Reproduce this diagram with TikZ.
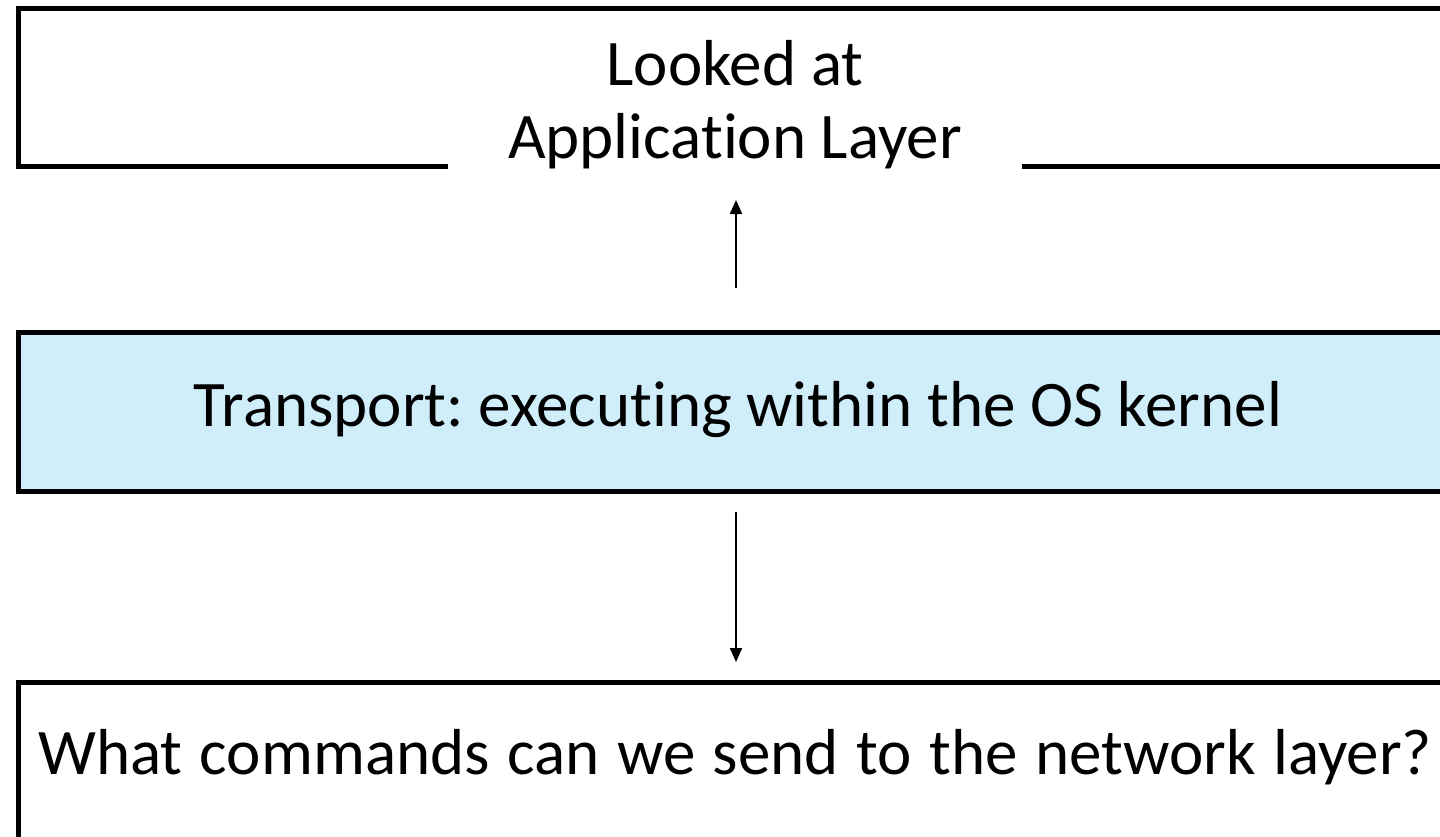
\documentclass[tikz,border=0pt]{standalone}
\usepackage{fontspec}
\setmainfont{Carlito}[Ligatures=NoCommon]
\usetikzlibrary{arrows.meta}
\definecolor{boxblue}{RGB}{207,238,250}
\frenchspacing
\tikzset{
  layerbox/.style={draw=black, line width=2.25pt, minimum width=722pt, anchor=north west, inner sep=0pt},
  lbl/.style={font=\fontsize{32.5}{36.5}\selectfont, align=center, inner sep=0pt},
  conn/.style={line width=1pt, -{Triangle[width=6pt,length=7pt]}}
}
\begin{document}
\begin{tikzpicture}[x=0.5pt,y=-0.5pt]
\useasboundingbox (0,0) rectangle (1440,836);
\clip (0,0) rectangle (1440,836);
% top box
\node[layerbox, minimum height=79pt] (app) at (16,6) {};
\node[lbl, fill=white, inner xsep=30pt, inner ysep=4pt] (apptext) at (735,105) {Looked at\\Application Layer};
% middle box
\node[layerbox, minimum height=79.5pt, fill=boxblue] (trans) at (16,330) {};
\node[lbl] (transtext) at (738,410) {Transport: executing within the OS kernel};
% bottom box
\node[layerbox, minimum height=100pt] (net) at (16,680) {};
\node[lbl] (nettext) at (735,757) {\spaceskip=0.27em\relax What commands can we send to the network layer?};
% arrows
\coordinate (upS) at (736,288);
\coordinate (upE) at (736,200);
\coordinate (dnS) at (736,512);
\coordinate (dnE) at (736,662);
\draw[conn] (upS) -- (upE);
\draw[conn] (dnS) -- (dnE);
\end{tikzpicture}
\end{document}
